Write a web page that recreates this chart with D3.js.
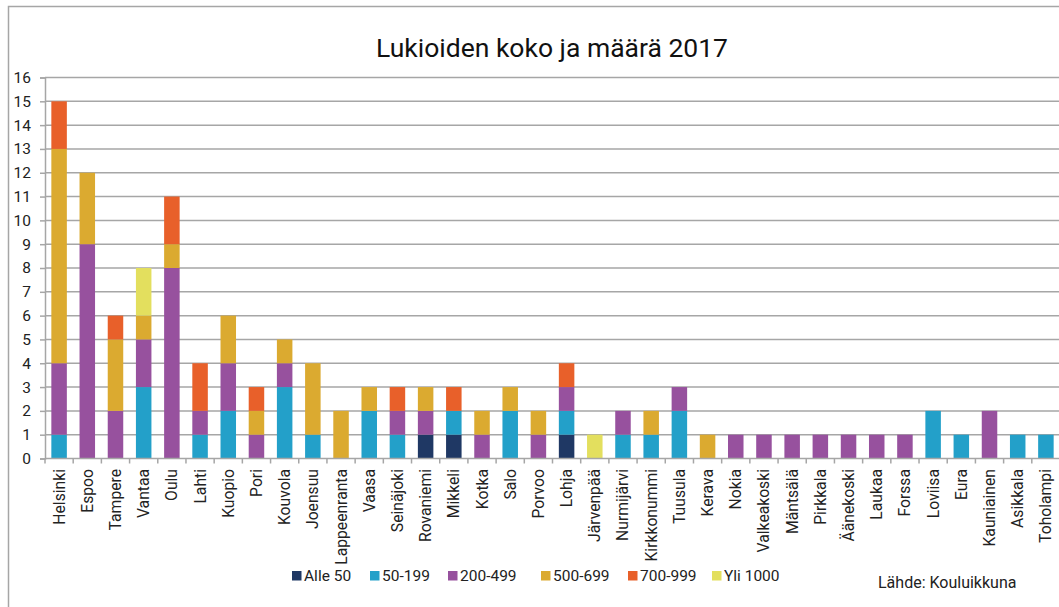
<!DOCTYPE html>
<html>
<head>
<meta charset="utf-8">
<script src="https://cdn.jsdelivr.net/npm/d3@7"></script>
<style>
  html, body { margin: 0; padding: 0; background: #fff; }
  svg { display: block; font-family: Roboto, "Noto Sans", sans-serif; }
</style>
</head>
<body>
<svg id="chart" width="1059" height="607"></svg>
<script>
// Municipalities, in order of upper secondary school count
const cities = ["Helsinki","Espoo","Tampere","Vantaa","Oulu","Lahti","Kuopio","Pori","Kouvola","Joensuu",
  "Lappeenranta","Vaasa","Seinäjoki","Rovaniemi","Mikkeli","Kotka","Salo","Porvoo","Lohja","Järvenpää",
  "Nurmijärvi","Kirkkonummi","Tuusula","Kerava","Nokia","Valkeakoski","Mäntsälä","Pirkkala","Äänekoski",
  "Laukaa","Forssa","Loviisa","Eura","Kauniainen","Asikkala","Toholampi"];

// School size classes (students)
const sizeClasses = ["Alle 50","50-199","200-499","500-699","700-999","Yli 1000"];

// Number of schools per size class, one value per municipality
const alle50   = [0,0,0,0,0,0,0,0,0,0, 0,0,0,1,1,0,0,0,1,0, 0,0,0,0,0,0,0,0,0, 0,0,0,0,0,0,0];
const s50_199  = [1,0,0,3,0,1,2,0,3,1, 0,2,1,0,1,0,2,0,1,0, 1,1,2,0,0,0,0,0,0, 0,0,2,1,0,1,1];
const s200_499 = [3,9,2,2,8,1,2,1,1,0, 0,0,1,1,0,1,0,1,1,0, 1,0,1,0,1,1,1,1,1, 1,1,0,0,2,0,0];
const s500_699 = [9,3,3,1,1,0,2,1,1,3, 2,1,0,1,0,1,1,1,0,0, 0,1,0,1,0,0,0,0,0, 0,0,0,0,0,0,0];
const s700_999 = [2,0,1,0,2,2,0,1,0,0, 0,0,1,0,1,0,0,0,1,0, 0,0,0,0,0,0,0,0,0, 0,0,0,0,0,0,0];
const yli1000  = [0,0,0,2,0,0,0,0,0,0, 0,0,0,0,0,0,0,0,0,1, 0,0,0,0,0,0,0,0,0, 0,0,0,0,0,0,0];

const yTicks = d3.range(0, 17);

const colors = ["#1f3864","#23a0c9","#97519e","#dbaa30","#e8602a","#e3df5e"];

const seriesValues = [alle50, s50_199, s200_499, s500_699, s700_999, yli1000];
const rows = cities.map((c, i) => {
  const r = { city: c };
  sizeClasses.forEach((k, j) => r[k] = seriesValues[j][i]);
  return r;
});

const svg = d3.select("#chart");

// outer frame
svg.append("rect")
  .attr("x", 8.5).attr("y", 6.5)
  .attr("width", 1100).attr("height", 700)
  .attr("fill", "none").attr("stroke", "#a6a6a6").attr("stroke-width", 1.5);

const plot = { left: 45, right: 1060, top: 77.5, bottom: 458.5 };

const x = d3.scaleBand().domain(cities).range([plot.left, plot.right]).paddingInner(0.45).paddingOuter(0.225);
const y = d3.scaleLinear().domain([0, 16]).range([plot.bottom, plot.top]);

// title
svg.append("text")
  .attr("x", 552).attr("y", 57)
  .attr("text-anchor", "middle")
  .attr("font-size", 26.5).attr("fill", "#111")
  .text("Lukioiden koko ja määrä 2017");

// gridlines
svg.append("g")
  .selectAll("line")
  .data(yTicks.filter(d => d > 0))
  .join("line")
  .attr("x1", plot.left).attr("x2", plot.right)
  .attr("y1", d => y(d)).attr("y2", d => y(d))
  .attr("stroke", "#a6a6a6").attr("stroke-width", 1.5);

// stacked bars
const stack = d3.stack().keys(sizeClasses)(rows);
svg.append("g")
  .selectAll("g")
  .data(stack)
  .join("g")
  .attr("fill", (d, i) => colors[i])
  .selectAll("rect")
  .data(d => d.filter(p => p[1] > p[0]))
  .join("rect")
  .attr("x", d => x(d.data.city))
  .attr("width", x.bandwidth())
  .attr("y", d => y(d[1]))
  .attr("height", d => y(d[0]) - y(d[1]));

// y axis
const yAxis = svg.append("g")
  .attr("transform", `translate(${plot.left},0)`)
  .call(d3.axisLeft(y).tickValues(yTicks).tickFormat(d3.format("d")).tickSize(5).tickPadding(9));
yAxis.select(".domain").attr("stroke", "#a6a6a6").attr("stroke-width", 1.5);
yAxis.selectAll(".tick line").attr("stroke", "#a6a6a6").attr("stroke-width", 1.5);
yAxis.selectAll(".tick text").attr("font-size", 15.5).attr("fill", "#222").attr("font-family", "Roboto, sans-serif");

// x axis: boundary ticks between categories
const xAxisG = svg.append("g");
xAxisG.append("line")
  .attr("x1", plot.left).attr("x2", plot.right)
  .attr("y1", plot.bottom).attr("y2", plot.bottom)
  .attr("stroke", "#a6a6a6").attr("stroke-width", 1.5);
const step = x.step();
xAxisG.selectAll("line.tk")
  .data(d3.range(0, cities.length + 1))
  .join("line")
  .attr("class", "tk")
  .attr("x1", i => plot.left + i * step).attr("x2", i => plot.left + i * step)
  .attr("y1", plot.bottom).attr("y2", plot.bottom + 5)
  .attr("stroke", "#a6a6a6").attr("stroke-width", 1.5);

// category labels, rotated
xAxisG.selectAll("text")
  .data(cities)
  .join("text")
  .attr("transform", d => `translate(${x(d) + x.bandwidth() / 2},${plot.bottom + 10.5}) rotate(-90)`)
  .attr("text-anchor", "end")
  .attr("dy", "0.35em")
  .attr("font-size", 15.7).attr("fill", "#222")
  .text(d => d);

// legend
const legendX = [292, 370, 448, 541, 628, 712];
const legend = svg.append("g");
sizeClasses.forEach((k, i) => {
  legend.append("rect")
    .attr("x", legendX[i]).attr("y", 571)
    .attr("width", 9.5).attr("height", 9.5)
    .attr("fill", colors[i]);
  legend.append("text")
    .attr("x", legendX[i] + 12).attr("y", 581)
    .attr("font-size", 15.5).attr("fill", "#222")
    .text(k);
});

// source note
svg.append("text")
  .attr("x", 878).attr("y", 588)
  .attr("font-size", 16).attr("fill", "#222")
  .text("Lähde: Kouluikkuna");
</script>
</body>
</html>
